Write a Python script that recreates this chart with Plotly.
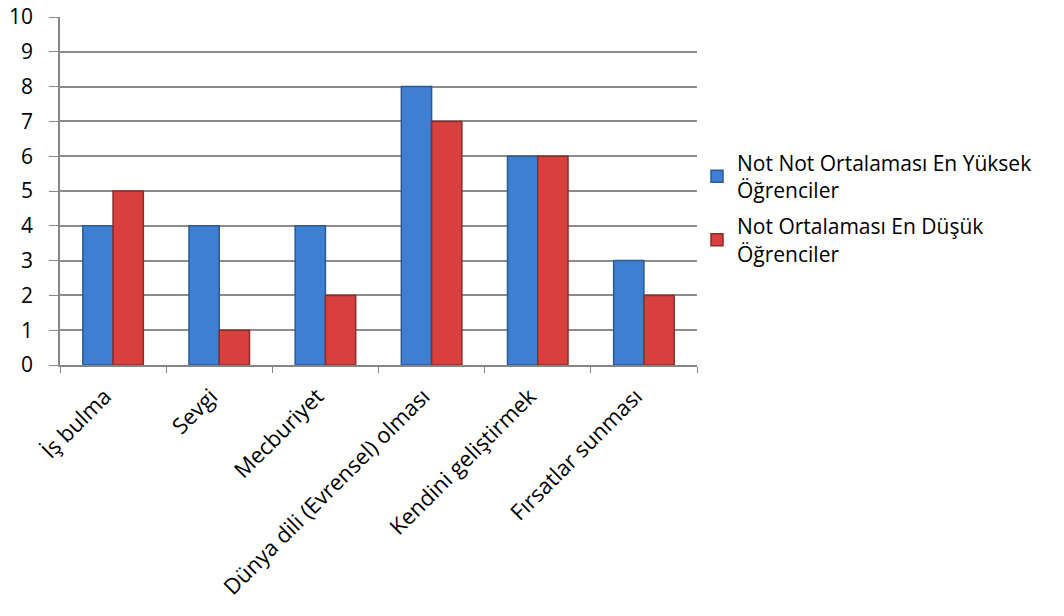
import plotly.graph_objects as go

categories = ["İş bulma", "Sevgi", "Mecburiyet", "Dünya dili (Evrensel) olması", "Kendini geliştirmek", "Fırsatlar sunması"]
high_values = [4, 4, 4, 8, 6, 3]
low_values = [5, 1, 2, 7, 6, 2]
series_names = ["Not Not Ortalaması En Yüksek<br>Öğrenciler", "Not Ortalaması En Düşük<br>Öğrenciler"]

FONT = "Open Sans"
fig = go.Figure()
fig.add_trace(go.Bar(x=categories, y=high_values, name=series_names[0], legendgroup="a",
                     marker=dict(color="#3E7FD1", line=dict(color="#2A5A96", width=1.5))))
fig.add_trace(go.Bar(x=categories, y=low_values, name=series_names[1], legendgroup="b",
                     marker=dict(color="#D8403D", line=dict(color="#8E2A28", width=1.5))))

fig.update_layout(
    width=1064, height=616,
    margin=dict(l=60, r=367, t=17, b=251, autoexpand=False),
    paper_bgcolor="white", plot_bgcolor="white",
    barmode="group", bargap=0.43, bargroupgap=0,
    font=dict(family=FONT, size=21, color="black"),
    legend=dict(x=1.0, y=0.45, xanchor="left", yanchor="middle",
                font=dict(family=FONT, size=21, color="black"),
                itemwidth=30, tracegroupgap=6),
    xaxis=dict(tickangle=-45, showline=True, linecolor="#868686", linewidth=1.5,
               ticks="outside", tickson="boundaries", ticklen=6, tickcolor="#868686",
               tickmode="array", tickvals=categories,
               ticktext=[c + "\u00a0\u00a0" for c in categories],
               tickfont=dict(family=FONT, size=22), automargin=False),
    yaxis=dict(range=[0, 10], dtick=1, showline=True, linecolor="#868686", linewidth=1.5,
               ticks="outside", ticklen=9, tickcolor="#868686", ticklabelstandoff=12,
               showgrid=True, gridcolor="#8C8C8C", gridwidth=1.5, zeroline=False,
               tickfont=dict(family=FONT, size=21), automargin=False),
)
fig.write_html("out.html")
